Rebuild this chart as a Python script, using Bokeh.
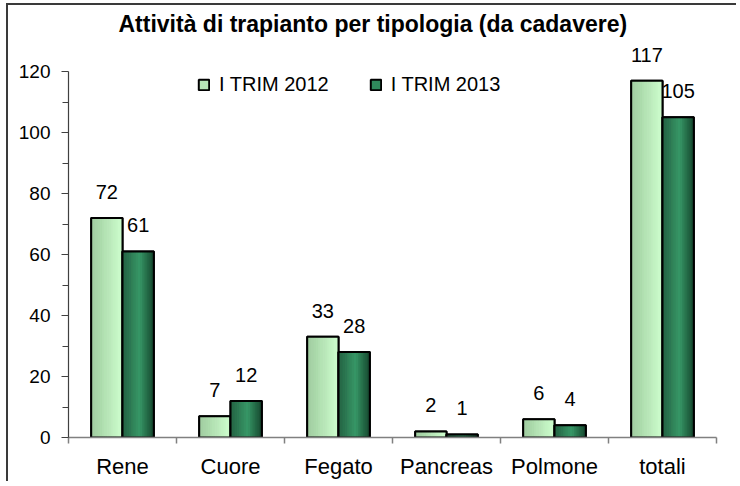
from bokeh.plotting import figure
from bokeh.models import (ColumnDataSource, FactorRange, Range1d, LinearAxis, FixedTicker,
                          Legend, LegendItem)
from bokeh.transform import dodge
from bokeh.core.properties import value
from bokeh.embed import file_html
from bokeh.resources import INLINE

# ---- data ----
categories = ["Rene", "Cuore", "Fegato", "Pancreas", "Polmone", "totali"]
trim_2012 = [72, 7, 33, 2, 6, 117]
trim_2013 = [61, 12, 28, 1, 4, 105]
series_names = ["I TRIM 2012", "I TRIM 2013"]
y_ticks = [0, 20, 40, 60, 80, 100, 120]
title_text = "Attività di trapianto per tipologia  (da cadavere)"

FONT = "Liberation Sans"

src = ColumnDataSource(dict(
    cat=categories, a=trim_2012, b=trim_2013,
    la=[str(v) for v in trim_2012], lb=[str(v) for v in trim_2013],
))

# headroom above the top tick so that the title sits in its own short panel
y_top = y_ticks[-1] * 397 / 365

p = figure(
    x_range=FactorRange(factors=categories, range_padding=0),
    y_range=Range1d(y_ticks[0], y_top),
    width=730, height=478,
    output_backend="svg", toolbar_location=None,
    x_axis_type=None, y_axis_type=None,
    min_border_left=60, min_border_right=22, min_border_top=0, min_border_bottom=46,
)
p.outline_line_color = None
p.background_fill_color = "white"
p.border_fill_color = "white"
p.styles = {"margin-left": "6px", "margin-top": "3px",
            "border-left": "2px solid #3a3a3a", "border-top": "2px solid #3a3a3a"}

p.title.text = title_text
p.title.align = "left"
p.title.offset = 50
p.title.standoff = 6
p.title.text_font = FONT
p.title.text_font_size = "23px"
p.title.text_font_style = "bold"
p.title.text_color = "black"

# ---- axes ----
n = len(categories)
xaxis = LinearAxis(
    ticker=FixedTicker(ticks=[i + 0.5 for i in range(n)], minor_ticks=list(range(n + 1))),
    major_label_overrides={i + 0.5: c for i, c in enumerate(categories)},
)
xaxis.axis_line_color = "#808080"
xaxis.axis_line_width = 1.5
xaxis.major_tick_line_color = None
xaxis.major_tick_out = 0
xaxis.major_tick_in = 0
xaxis.minor_tick_line_color = "#808080"
xaxis.minor_tick_line_width = 1.5
xaxis.minor_tick_out = 6
xaxis.minor_tick_in = 0
xaxis.major_label_standoff = 10
xaxis.major_label_text_font = FONT
xaxis.major_label_text_font_size = "22px"
xaxis.major_label_text_color = "black"
p.add_layout(xaxis, "below")

minor_y = [(a + b) / 2 for a, b in zip(y_ticks[:-1], y_ticks[1:])]
yaxis = LinearAxis(ticker=FixedTicker(ticks=y_ticks, minor_ticks=minor_y),
                   bounds=(y_ticks[0], y_ticks[-1]))
yaxis.axis_line_color = "#404040"
yaxis.axis_line_width = 1.2
yaxis.major_tick_line_color = "#404040"
yaxis.minor_tick_line_color = "#404040"
yaxis.major_tick_out = 7
yaxis.major_tick_in = 0
yaxis.minor_tick_out = 6
yaxis.minor_tick_in = 0
yaxis.major_label_standoff = 11
yaxis.major_label_text_font = FONT
yaxis.major_label_text_font_size = "19px"
yaxis.major_label_text_color = "black"
p.add_layout(yaxis, "left")

# ---- bars with gradient strips ----
bw = 0.29
N = 14


def lerp(c1, c2, t):
    return "#%02x%02x%02x" % tuple(int(round(a + (b - a) * t)) for a, b in zip(c1, c2))


light_cols = [lerp((158, 202, 158), (206, 255, 206), (i + 0.5) / N) for i in range(N)]
dark_cols = []
for i in range(N):
    t = (i + 0.5) / N
    if t < 0.55:
        dark_cols.append(lerp((36, 96, 66), (56, 152, 104), t / 0.55))
    else:
        dark_cols.append(lerp((56, 152, 104), (22, 70, 46), (t - 0.55) / 0.45))

legend_renderers = []
for field, center, cols, mid in (("a", -bw / 2, light_cols, "#b8e6b8"),
                                 ("b", bw / 2, dark_cols, "#2f8a5c")):
    base = p.vbar(x=dodge("cat", center, range=p.x_range), top=field, width=bw, source=src,
                  fill_color=mid, line_color="black", line_width=2)
    legend_renderers.append(base)
    for i, c in enumerate(cols):
        off = center - bw / 2 + (i + 0.5) * bw / N
        p.vbar(x=dodge("cat", off, range=p.x_range), top=field, width=bw / N, source=src,
               fill_color=c, line_color=c, line_width=0.6)
    p.vbar(x=dodge("cat", center, range=p.x_range), top=field, width=bw, source=src,
           fill_color=None, line_color="black", line_width=2)

for field, lab, center in (("a", "la", -bw / 2), ("b", "lb", bw / 2)):
    p.text(x=dodge("cat", center, range=p.x_range), y=field, text=lab, source=src,
           text_align="center", text_baseline="alphabetic", y_offset=-26,
           text_font=value(FONT), text_font_size="20px", text_color="black")

# ---- legend ----
legend = Legend(
    items=[LegendItem(label=series_names[0], renderers=[legend_renderers[0]]),
           LegendItem(label=series_names[1], renderers=[legend_renderers[1]])],
    orientation="horizontal", location=(129, 341),
    glyph_width=13, glyph_height=13, label_standoff=9, spacing=40,
    padding=0, margin=0, border_line_color=None, background_fill_alpha=0,
    label_text_font=FONT, label_text_font_size="20px", label_text_color="black",
)
p.add_layout(legend)

open("out.html", "w").write(file_html(p, INLINE))
